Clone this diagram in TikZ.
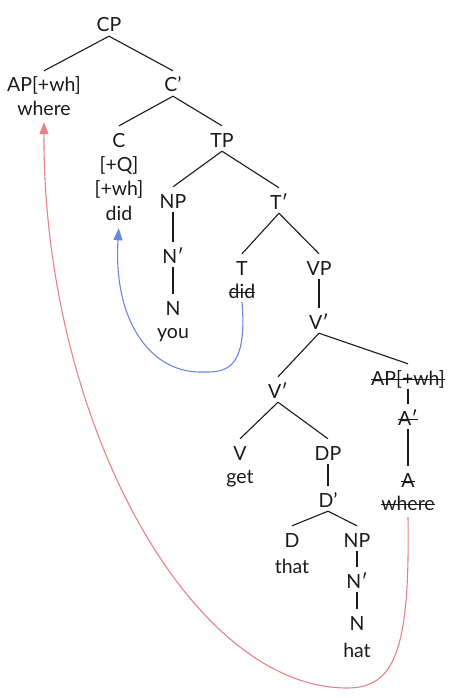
\documentclass[tikz,border=0pt]{standalone}
\usepackage{fontspec}
\setmainfont{Lato}
\usetikzlibrary{arrows.meta}
\definecolor{movblue}{RGB}{105,135,220}
\definecolor{movred}{RGB}{232,128,138}
\definecolor{ink}{RGB}{26,26,26}
\newcommand\strk[1]{\begingroup\setbox0\hbox{#1}\rlap{\rule[0.26em]{\wd0}{1.1pt}}\box0\endgroup}
\begin{document}
\begin{tikzpicture}[x=1pt,y=-1pt,
  lab/.style={anchor=base,inner sep=0pt,text height=21pt,text depth=4pt,text=ink,
    font=\fontsize{19.5}{23}\selectfont},
  br/.style={draw=ink,line width=1.1pt},
  mvb/.style={draw=movblue,line width=1.1pt,-{Triangle[length=12pt,width=9pt]}},
  mvr/.style={draw=movred,line width=1.1pt,-{Triangle[length=12pt,width=9pt]}}
]
\useasboundingbox (0,0) rectangle (457,698);
% top
\node[lab] (CP) at (109,32) {CP};
\node[lab] (AP) at (44,92) {AP[+wh]};
\node[lab] (wh1) at (44,115) {where};
\node[lab] (Cb) at (173,92) {C'};
\node[lab] (C) at (119,147) {C};
\node[lab] (Cq) at (119,171) {[+Q]};
\node[lab] (Cw) at (119,195) {[+wh]};
\node[lab] (did1) at (119,220) {did};
\node[lab] (TP) at (222,147) {TP};
\node[lab] (NP1) at (173,208) {NP};
\node[lab] (Nb1) at (173,263) {N′};
\node[lab] (N1) at (173,315) {N};
\node[lab] (you) at (173,338) {you};
\node[lab] (Tb) at (279,209) {T′};
\node[lab] (T) at (242,275) {T};
\node[lab] (did2) at (242,298) {\strk{did}};
\node[lab] (VP) at (319,275) {VP};
\node[lab] (Vb1) at (319,329) {V′};
\node[lab] (Vb2) at (278,398) {V′};
\node[lab] (APt) at (408,385) {\strk{AP[+wh]}};
\node[lab] (Ab) at (408,425) {\strk{A′}};
\node[lab] (A) at (408,487) {\strk{A}};
\node[lab] (wh2) at (408,510) {\strk{where}};
\node[lab] (V) at (240,460) {V};
\node[lab] (get) at (240,483) {get};
\node[lab] (DP) at (328,460) {DP};
\node[lab] (Db) at (328,507) {D'};
\node[lab] (D) at (292,547) {D};
\node[lab] (that) at (292,573) {that};
\node[lab] (NP2) at (357,547) {NP};
\node[lab] (Nb2) at (357,588) {N′};
\node[lab] (N2) at (357,630) {N};
\node[lab] (hat) at (357,657) {hat};
% branches
\draw[br] (CP.south) -- (AP.north);
\draw[br] (CP.south) -- (Cb.north);
\draw[br] (Cb.south) -- (C.north);
\draw[br] (Cb.south) -- (TP.north);
\draw[br] (TP.south) -- (NP1.north);
\draw[br] (TP.south) -- (Tb.north);
\draw[br] (NP1.south) -- (Nb1.north);
\draw[br] (Nb1.south) -- (N1.north);
\draw[br] (Tb.south) -- (T.north);
\draw[br] (Tb.south) -- (VP.north);
\draw[br] (VP.south) -- (Vb1.north);
\draw[br] (Vb1.south) -- (Vb2.north);
\draw[br] (Vb1.south) -- (APt.north);
\draw[br] (APt.south) -- (Ab.north);
\draw[br] (Ab.south) -- (A.north);
\draw[br] (Vb2.south) -- (V.north);
\draw[br] (Vb2.south) -- (DP.north);
\draw[br] (DP.south) -- (Db.north);
\draw[br] (Db.south) -- (D.north);
\draw[br] (Db.south) -- (NP2.north);
\draw[br] (NP2.south) -- (Nb2.north);
\draw[br] (Nb2.south) -- (N2.north);
% movement arrows
\draw[mvb,shorten >=4pt] (did2.south) .. controls (248,375) and (222,372) .. (200,372)
  .. controls (150,372) and (113,320) .. (did1.south);
\draw[mvr,shorten >=3pt] ([yshift=-3pt]wh2.south) .. controls (410,650) and (395,688) .. (347,688)
  .. controls (190,688) and (43,420) .. (wh1.south);
\end{tikzpicture}
\end{document}
